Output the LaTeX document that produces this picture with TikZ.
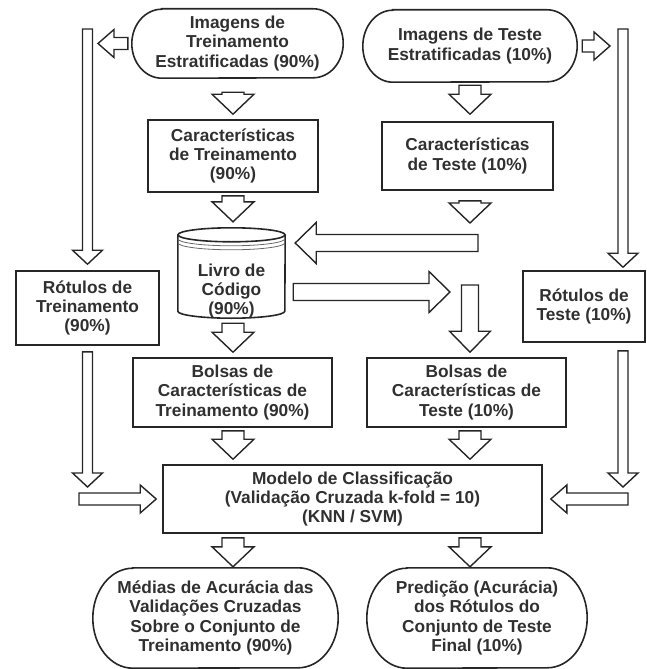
\documentclass[tikz,border=0pt]{standalone}
\usepackage{fontspec}
\setmainfont{Liberation Sans}
\usetikzlibrary{calc}
\definecolor{ink}{HTML}{262626}
\definecolor{txt}{HTML}{303030}
% contorno arredondado (terminal) em volta de um no
\newcommand{\estadio}[3]{\draw[ink,line width=1.6pt] ($(#1.north west)+(#2,0)$) -- ($(#1.north east)+(-#2,0)$)
  arc[start angle=-90,end angle=90,x radius=#2,y radius=#3] -- ($(#1.south west)+(#2,0)$)
  arc[start angle=90,end angle=270,x radius=#2,y radius=#3] -- cycle;}

\begin{document}
\begin{tikzpicture}[x=1pt,y=-1pt,font=\bfseries\fontsize{17.3}{19.3}\selectfont,
    box/.style={draw=ink,line width=1.6pt,text=txt,align=center,inner sep=0pt},
    term/.style={text=txt,align=center,inner sep=0pt},
    blk/.style n args={3}{draw=ink,fill=white,line width=1.4pt,line join=miter,
      to path={let \p1=(\tikztostart),\p2=(\tikztotarget),\p3=($(\p2)!#3!(\p1)$) in
        ($(\p1)!#1!90:(\p2)$) -- ($(\p3)!#1!90:(\p2)$) -- ($(\p3)!#2!90:(\p2)$) -- (\p2)
        -- ($(\p3)!#2!-90:(\p2)$) -- ($(\p3)!#1!-90:(\p2)$) -- ($(\p1)!#1!-90:(\p2)$) -- cycle}},
    sarr/.style={blk={11pt}{21pt}{20pt}},
    larr/.style={blk={5pt}{15pt}{14pt}},
    harr/.style={blk={6pt}{14pt}{16pt}},
    warr/.style={blk={8.5pt}{20.5pt}{21pt}}]
  \useasboundingbox (0,0) rectangle (646,669);
  % entradas
  \node[term,minimum width=211pt,minimum height=69pt] (imgtrein) at (237.5,43.5) {Imagens de\\Treinamento\\Estratificadas (90\%)};
  \node[term,minimum width=214pt,minimum height=72pt] (imgteste) at (470,46) {Imagens de Teste\\Estratificadas (10\%)};
  \estadio{imgtrein}{30}{34.5}
  \estadio{imgteste}{30}{36}
  \node[box,minimum width=170pt,minimum height=72pt] (cartrein) at (233,156) {Características\\de Treinamento\\(90\%)};
  \node[box,minimum width=171pt,minimum height=68pt] (carteste) at (467.5,156) {Características\\de Teste (10\%)};
  \node[box,minimum width=143pt,minimum height=74pt] (rottrein) at (87.5,308) {Rótulos de\\Treinamento\\(90\%)};
  \node[box,minimum width=122pt,minimum height=71pt] (rotteste) at (584,306.5) {Rótulos de\\Teste (10\%)};
  \node[box,minimum width=199pt,minimum height=69pt] (bolstrein) at (232.5,392.5) {Bolsas de\\Características de\\Treinamento (90\%)};
  \node[box,minimum width=199pt,minimum height=69pt] (bolsteste) at (466.5,392.5) {Bolsas de\\Características de\\Teste (10\%)};
  \node[box,minimum width=379pt,minimum height=68pt] (modelo) at (352.5,499) {Modelo de Classificação\\(Validação Cruzada k-fold = 10)\\(KNN / SVM)};
  \node[term,minimum width=245pt,minimum height=100pt] (medias) at (215.5,618) {Médias de Acurácia das\\Validações Cruzadas\\Sobre o Conjunto de\\Treinamento (90\%)};
  \node[term,minimum width=220pt,minimum height=100pt] (predicao) at (477,618) {Predição (Acurácia)\\dos Rótulos do\\Conjunto de Teste\\Final (10\%)};
  \estadio{medias}{40}{50}
  \estadio{predicao}{40}{50}
  % livro de codigo
  \node[minimum width=107pt,minimum height=90pt,inner sep=0pt] (livro) at (231.5,273) {};
  \draw[ink,line width=1.6pt] ($(livro.north west)+(0,7)$) -- ($(livro.south west)+(0,-7)$)
    arc[start angle=180,end angle=0,x radius=53.5,y radius=7] -- ($(livro.north east)+(0,7)$);
  \draw[ink,line width=1.6pt] ($(livro.north)+(0,7)$) ellipse[x radius=53.5,y radius=7];
  \foreach \d in {4,8}
    \draw[ink!70,line width=.8pt] ($(livro.north west)+(0,7+\d)$) arc[start angle=180,end angle=0,x radius=53.5,y radius=7];
  \node[text=txt,align=center,inner sep=0pt] (livrotxt) at ($(livro.center)+(0,18)$) {Livro de\\Código\\(90\%)};
  % pontos livres
  \coordinate (ltop) at (87.5,29);
  \coordinate (lbot) at (87.5,487);
  \coordinate (rtop) at (623,29);
  \coordinate (rbot) at (623,487);
  \coordinate (tstop) at (470,223);
  \coordinate (wbeg) at (478,243);
  \coordinate (rtip) at (450,292);
  \coordinate (vbeg) at (470,285);
  % coluna de treinamento
  \draw[sarr] ($(imgtrein.south -| cartrein.north)+(0,14)$) to ($(cartrein.north)+(0,-5)$);
  \draw[sarr] ($(cartrein.south)+(0,3)$) to ($(livro.north -| cartrein.south)+(0,-6)$);
  \draw[sarr] ($(livro.south -| cartrein.south)+(0,5)$) to ($(bolstrein.north -| cartrein.south)+(0,-5)$);
  \draw[sarr] ($(bolstrein.south -| cartrein.south)+(0,3)$) to ($(modelo.north -| cartrein.south)+(0,-5)$);
  \draw[sarr] ($(modelo.south -| cartrein.south)+(0,4)$) to ($(medias.north -| cartrein.south)+(0,-1)$);
  % coluna de teste
  \draw[sarr] ($(imgteste.south)+(0,3)$) to ($(carteste.north -| imgteste.south)+(0,-7)$);
  \draw[sarr] ($(carteste.south -| tstop)+(0,10)$) to (tstop);
  \draw[warr] (wbeg) to ($(livro.east |- wbeg)+(10,0)$);
  \draw[warr] ($(livro.east |- rtip)+(8,0)$) to (rtip);
  \draw[warr] (vbeg) to ($(vbeg |- bolsteste.north)+(0,-5)$);
  \draw[sarr] ($(bolsteste.south -| vbeg)+(0,3)$) to ($(modelo.north -| vbeg)+(0,-5)$);
  \draw[sarr] ($(modelo.south -| vbeg)+(0,4)$) to ($(predicao.north -| vbeg)+(0,-1)$);
  % rotulos
  \draw[harr] ($(imgtrein.west)+(-4,0)$) to ($(imgtrein.west -| ltop)+(10.5,0)$);
  \draw[larr] (ltop) to ($(ltop |- rottrein.north)+(0,-6)$);
  \draw[larr] ($(rottrein.south -| lbot)+(0,6)$) to (lbot);
  \draw[harr] ($(modelo.west -| lbot)+(-8.5,0)$) to ($(modelo.west)+(-6,0)$);
  \draw[harr] ($(imgteste.east)+(5,0)$) to ($(imgteste.east -| rtop)+(-13,0)$);
  \draw[larr] (rtop) to ($(rtop |- rotteste.north)+(0,-3)$);
  \draw[larr] ($(rotteste.south -| rbot)+(0,8)$) to (rbot);
  \draw[harr] ($(modelo.east -| rbot)+(5,0)$) to ($(modelo.east)+(8,0)$);
\end{tikzpicture}
\end{document}
